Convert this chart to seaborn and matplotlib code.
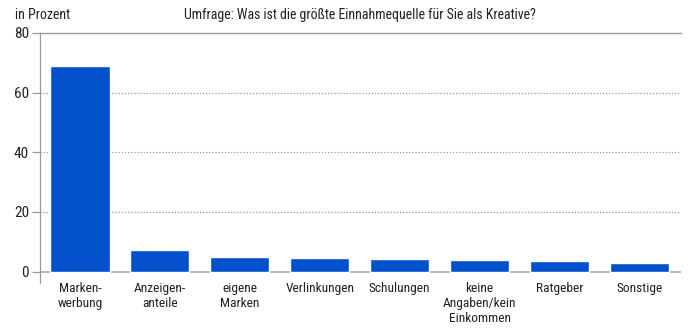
import matplotlib
matplotlib.use("Agg")
import matplotlib.pyplot as plt
import seaborn as sns
import pandas as pd

categories = ["Marken-\nwerbung", "Anzeigen-\nanteile", "eigene\nMarken", "Verlinkungen",
              "Schulungen", "keine\nAngaben/kein\nEinkommen", "Ratgeber", "Sonstige"]
values = [68.9, 7.4, 4.8, 4.6, 4.4, 3.8, 3.6, 2.9]
yticks = [0, 20, 40, 60, 80]
title = "Umfrage: Was ist die größte Einnahmequelle für Sie als Kreative?"
ylabel = "in Prozent"

sns.set_theme(style="white")
plt.rcParams["font.family"] = ["Roboto Condensed", "Barlow Condensed", "DejaVu Sans"]

df = pd.DataFrame({"cat": categories, "val": values})

fig = plt.figure(figsize=(7, 3.29), dpi=100)
ax = fig.add_axes([40/700, 1-283/329, (681-40)/700, (283-33)/329])

for y in [20, 40, 60]:
    ax.axhline(y, color="#999999", lw=0.9, ls=(0, (1, 1.5)), zorder=0)

sns.barplot(data=df, x="cat", y="val", color="#0352CC", saturation=1, width=0.74, ax=ax, zorder=2)
ax.axhline(0, color="#aaaaaa", lw=1.2, zorder=1)

ax.set_ylim(-3.8, 80)
ax.set_xlim(-0.5, 7.52)
ax.set_yticks(yticks)
ax.set_yticklabels([str(t) for t in yticks], fontsize=11, color="#222222")
ax.tick_params(axis="y", length=6, width=0.9, color="#999999", pad=2, left=True)
ax.tick_params(axis="x", length=0, pad=-1, labelsize=9.6, labelcolor="#222222")
ax.set_xlabel("")
ax.set_ylabel("")
for lbl in ax.get_xticklabels():
    lbl.set_linespacing(1.22)
    lbl.set_verticalalignment("top")

for s in ["right", "bottom"]:
    ax.spines[s].set_visible(False)
ax.spines["left"].set_color("#999999")
ax.spines["left"].set_linewidth(0.9)
ax.spines["top"].set_color("#999999")
ax.spines["top"].set_linewidth(1.0)

fig.text(15/700, 1-15/329, ylabel, fontsize=10, color="#222222", va="center", ha="left")
fig.text(360/700, 1-15/329, title, fontsize=10, color="#222222", va="center", ha="center")

fig.savefig("out.png", dpi=100, facecolor="white")
